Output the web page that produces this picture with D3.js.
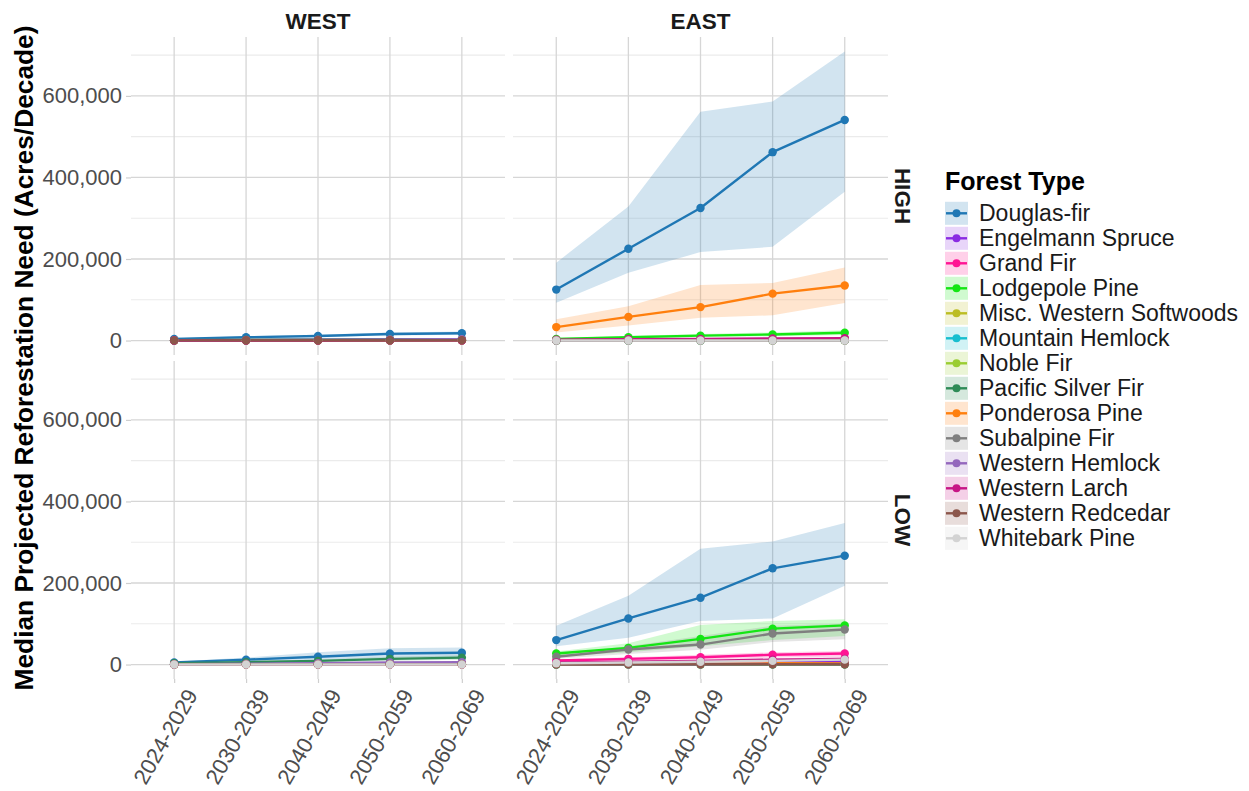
<!DOCTYPE html>
<html>
<head>
<meta charset="utf-8">
<script src="https://cdn.jsdelivr.net/npm/d3@7"></script>
<style>
  html, body { margin: 0; padding: 0; background: #ffffff; }
  svg { display: block; font-family: "Liberation Sans", Arial, Helvetica, sans-serif; }
</style>
</head>
<body>
<svg id="chart" width="1249" height="791"></svg>
<script>
// ---------------- DATA ----------------
const decades = ["2024-2029", "2030-2039", "2040-2049", "2050-2059", "2060-2069"];
const forestTypes = ["Douglas-fir", "Engelmann Spruce", "Grand Fir", "Lodgepole Pine",
  "Misc. Western Softwoods", "Mountain Hemlock", "Noble Fir", "Pacific Silver Fir",
  "Ponderosa Pine", "Subalpine Fir", "Western Hemlock", "Western Larch",
  "Western Redcedar", "Whitebark Pine"];
const typeColors = ["#1f77b4", "#8a2be2", "#ff1493", "#14e614", "#bcbd22", "#17becf",
  "#9acd32", "#2e8b57", "#ff7f0e", "#7f7f7f", "#9467bd", "#c71585", "#8c564b", "#d3d3d3"];
const regions = ["WEST", "EAST"];
const scenarios = ["HIGH", "LOW"];
const yTickValues = [0, 200000, 400000, 600000];
const yMinorValues = [100000, 300000, 500000, 700000];

// WEST / HIGH
const westHighMedian = [
  [4000, 8000, 11000, 16000, 18000], [300, 400, 500, 600, 700], [600, 900, 1100, 1400, 1500],
  [300, 400, 500, 600, 700], [200, 300, 300, 400, 400], [500, 800, 1000, 1300, 1500],
  [300, 500, 600, 800, 900], [1000, 1800, 2400, 3000, 3300], [300, 400, 500, 600, 700],
  [200, 300, 400, 500, 500], [900, 1600, 2200, 2800, 3100], [100, 200, 200, 300, 300],
  [500, 700, 800, 900, 1000], null];
const westHighLower = [
  [3000, 6000, 8500, 12500, 14500], [200, 300, 300, 400, 500], [400, 600, 800, 1000, 1100],
  [200, 300, 300, 400, 500], [100, 200, 200, 300, 300], [300, 500, 700, 900, 1000],
  [200, 300, 400, 500, 600], [700, 1300, 1700, 2100, 2300], [200, 300, 300, 400, 500],
  [100, 200, 300, 300, 300], [600, 1100, 1500, 2000, 2200], [100, 100, 100, 200, 200],
  [300, 500, 600, 600, 700], null];
const westHighUpper = [
  [5500, 10500, 14500, 20000, 22000], [400, 500, 700, 800, 900], [800, 1200, 1500, 1800, 2000],
  [400, 500, 700, 800, 900], [300, 400, 400, 500, 500], [700, 1100, 1300, 1700, 2000],
  [400, 700, 800, 1100, 1200], [1300, 2400, 3100, 3900, 4300], [400, 500, 700, 800, 900],
  [300, 400, 500, 700, 700], [1200, 2100, 2900, 3600, 4000], [200, 300, 300, 400, 400],
  [700, 900, 1000, 1200, 1300], null];

// WEST / LOW
const westLowMedian = [
  [5000, 12000, 19000, 27000, 29000], [300, 400, 500, 600, 700], [700, 1000, 1300, 1600, 1800],
  [300, 400, 500, 600, 700], [200, 300, 300, 400, 400], [600, 1000, 1300, 1700, 1900],
  [400, 600, 800, 1000, 1100], [3000, 6000, 9000, 14000, 17000], [300, 400, 500, 600, 700],
  [300, 400, 500, 600, 700], [1000, 2000, 3000, 5000, 6000], [100, 200, 200, 300, 300],
  [600, 800, 900, 1000, 1100], [100, 100, 100, 100, 100]];
const westLowLower = [
  [3500, 8000, 12000, 17000, 19000], [200, 300, 300, 400, 500], [500, 700, 900, 1100, 1200],
  [200, 300, 300, 400, 500], [100, 200, 200, 300, 300], [400, 700, 900, 1200, 1300],
  [300, 400, 500, 700, 800], [2000, 4000, 6000, 9500, 11500], [200, 300, 300, 400, 500],
  [200, 300, 300, 400, 500], [700, 1400, 2000, 3400, 4000], [100, 100, 100, 200, 200],
  [400, 500, 600, 700, 800], [0, 0, 0, 0, 0]];
const westLowUpper = [
  [7000, 17000, 30000, 40000, 42000], [400, 500, 700, 800, 900], [1000, 1300, 1700, 2100, 2400],
  [400, 500, 700, 800, 900], [300, 400, 400, 500, 500], [800, 1300, 1700, 2200, 2500],
  [500, 800, 1100, 1300, 1400], [4000, 8000, 12000, 19000, 23000], [400, 500, 700, 800, 900],
  [400, 500, 700, 800, 900], [1300, 2600, 4000, 6600, 8000], [200, 300, 300, 400, 400],
  [800, 1100, 1200, 1300, 1400], [200, 200, 200, 200, 200]];

// EAST / HIGH
const eastHighMedian = [
  [125000, 225000, 325000, 462000, 541000], [1000, 1500, 2000, 2500, 3000], [1500, 2000, 3000, 3500, 4000],
  [4000, 8000, 12000, 15000, 19000], [300, 400, 500, 600, 700], [200, 300, 300, 400, 400],
  [100, 200, 200, 300, 300], [200, 300, 300, 400, 400], [33000, 58000, 82000, 115000, 135000],
  [1000, 1500, 2000, 2500, 3000], [300, 400, 500, 600, 700], [2000, 3000, 4000, 5000, 6000],
  [300, 400, 500, 500, 600], [100, 100, 100, 100, 100]];
const eastHighLower = [
  [93000, 166000, 217000, 230000, 365000], [700, 1000, 1400, 1700, 2000], [1000, 1400, 2000, 2400, 2700],
  [2500, 5500, 8500, 10500, 13500], [200, 300, 300, 400, 500], [100, 200, 200, 300, 300],
  [100, 100, 100, 200, 200], [100, 200, 200, 300, 300], [20000, 37000, 56000, 62000, 92000],
  [700, 1000, 1400, 1700, 2000], [200, 300, 300, 400, 500], [1400, 2000, 2800, 3500, 4200],
  [200, 300, 300, 300, 400], [0, 0, 0, 0, 0]];
const eastHighUpper = [
  [191000, 329000, 561000, 586000, 709000], [1300, 2000, 2600, 3300, 4000], [2000, 2600, 4000, 4600, 5300],
  [6000, 11000, 16000, 20000, 25000], [400, 500, 700, 800, 900], [300, 400, 400, 500, 500],
  [200, 300, 300, 400, 400], [300, 400, 400, 500, 500], [52000, 84000, 136000, 141000, 179000],
  [1300, 2000, 2600, 3300, 4000], [400, 500, 700, 800, 900], [2600, 4000, 5200, 6500, 7800],
  [400, 500, 700, 700, 800], [200, 200, 200, 200, 200]];

// EAST / LOW
const eastLowMedian = [
  [60000, 113000, 164000, 236000, 267000], [3000, 4000, 5000, 6500, 7500], [10000, 14000, 18000, 24000, 27000],
  [27000, 41000, 63000, 88000, 96000], [500, 700, 900, 1100, 1200], [300, 400, 500, 600, 700],
  [200, 300, 300, 400, 400], [300, 400, 500, 600, 700], [1500, 2000, 2500, 3000, 3500],
  [19000, 37000, 49000, 76000, 86000], [500, 700, 900, 1100, 1200], [5000, 7000, 9000, 12000, 14000],
  [500, 600, 700, 800, 900], [3000, 5000, 7000, 9000, 12000]];
const eastLowLower = [
  [45000, 66000, 107000, 113000, 193000], [2000, 2800, 3500, 4500, 5200], [7000, 10000, 12000, 17000, 19000],
  [20000, 30000, 45000, 60000, 70000], [300, 500, 600, 800, 800], [200, 300, 300, 400, 500],
  [100, 200, 200, 300, 300], [200, 300, 300, 400, 500], [1000, 1400, 1700, 2100, 2400],
  [14000, 26000, 36000, 55000, 62000], [300, 500, 600, 800, 800], [3500, 5000, 6300, 8400, 9800],
  [300, 400, 500, 600, 600], [2000, 3500, 5000, 6300, 8400]];
const eastLowUpper = [
  [95000, 169000, 284000, 302000, 347000], [4000, 5200, 6500, 8500, 9800], [13000, 18000, 24000, 30000, 33000],
  [32000, 52000, 97000, 107000, 111000], [700, 900, 1200, 1400, 1600], [400, 500, 700, 800, 900],
  [300, 400, 400, 500, 500], [400, 500, 700, 800, 900], [2000, 2600, 3300, 3900, 4600],
  [25000, 45000, 70000, 95000, 100000], [700, 900, 1200, 1400, 1600], [6500, 9100, 11700, 15600, 18200],
  [700, 800, 900, 1000, 1200], [4000, 6500, 9100, 11700, 15600]];

// ---------------- LAYOUT ----------------
const panelsData = {
  "WEST|HIGH": [westHighMedian, westHighLower, westHighUpper],
  "WEST|LOW":  [westLowMedian,  westLowLower,  westLowUpper],
  "EAST|HIGH": [eastHighMedian, eastHighLower, eastHighUpper],
  "EAST|LOW":  [eastLowMedian,  eastLowLower,  eastLowUpper]
};
const panelX = { WEST: [131, 505], EAST: [513, 888] };
const panelY = { HIGH: [37, 355], LOW: [361, 679] };

const allUpper = [westHighUpper, westLowUpper, eastHighUpper, eastLowUpper]
  .flatMap(a => a.filter(r => r).flat());
const yMax = d3.max(allUpper), yMin = 0;
const yPad = (yMax - yMin) * 0.05;

const svg = d3.select("#chart");
svg.append("rect").attr("width", 1249).attr("height", 791).attr("fill", "#ffffff");

const fade = (c, a) => { const col = d3.color(c); col.opacity = a; return col.formatRgb(); };
const FONT = "'Liberation Sans', Arial, Helvetica, sans-serif";

regions.forEach(region => {
  scenarios.forEach(scen => {
    const [x0, x1] = panelX[region];
    const [y0, y1] = panelY[scen];
    const x = d3.scalePoint().domain(decades).range([x0, x1]).padding(0.6);
    const y = d3.scaleLinear().domain([yMin - yPad, yMax + yPad]).range([y1, y0]);
    const g = svg.append("g");

    // grid
    g.selectAll(".minor").data(yMinorValues).join("line")
      .attr("x1", x0).attr("x2", x1).attr("y1", d => y(d)).attr("y2", d => y(d))
      .attr("stroke", "#ebebeb").attr("stroke-width", 1.1);
    g.selectAll(".major").data(yTickValues).join("line")
      .attr("x1", x0).attr("x2", x1).attr("y1", d => y(d)).attr("y2", d => y(d))
      .attr("stroke", "#d6d6d6").attr("stroke-width", 1.3);
    g.selectAll(".vmajor").data(decades).join("line")
      .attr("x1", d => x(d)).attr("x2", d => x(d)).attr("y1", y0).attr("y2", y1)
      .attr("stroke", "#d6d6d6").attr("stroke-width", 1.3);

    const [med, lo, hi] = panelsData[region + "|" + scen];
    const area = d3.area().x((d, i) => x(decades[i])).y0((d, i) => y(d[0])).y1((d, i) => y(d[1]));
    const line = d3.line().x((d, i) => x(decades[i])).y(d => y(d));

    forestTypes.forEach((ft, k) => {
      if (!med[k]) return;
      const pts = lo[k].map((v, i) => [v, hi[k][i]]);
      g.append("path").attr("d", area(pts)).attr("fill", fade(typeColors[k], 0.2)).attr("stroke", "none");
    });
    forestTypes.forEach((ft, k) => {
      if (!med[k]) return;
      g.append("path").attr("d", line(med[k])).attr("fill", "none")
        .attr("stroke", typeColors[k]).attr("stroke-width", 2.4).attr("stroke-linejoin", "round");
    });
    forestTypes.forEach((ft, k) => {
      if (!med[k]) return;
      g.selectAll(null).data(med[k]).join("circle")
        .attr("cx", (d, i) => x(decades[i])).attr("cy", d => y(d)).attr("r", 4.2)
        .attr("fill", typeColors[k]);
    });

    // y axis on left column
    if (region === "WEST") {
      const ya = svg.append("g").attr("transform", `translate(${x0},0)`)
        .call(d3.axisLeft(y).tickValues(yTickValues).tickFormat(d3.format(",")).tickSize(5).tickPadding(4));
      ya.select(".domain").remove();
      ya.selectAll(".tick line").attr("stroke", "#cfcfcf").attr("stroke-width", 1.2);
      ya.selectAll(".tick text").attr("fill", "#4d4d4d").style("font-size", "22px")
        .style("font-family", FONT);
    }
    // x axis on bottom row
    if (scen === "LOW") {
      const xa = svg.append("g").attr("transform", `translate(0,${y1})`)
        .call(d3.axisBottom(x).tickSize(4).tickPadding(4));
      xa.select(".domain").remove();
      xa.selectAll(".tick line").attr("stroke", "#cfcfcf").attr("stroke-width", 1.2);
      xa.selectAll(".tick text").attr("fill", "#4d4d4d").style("font-size", "22px")
        .style("font-family", FONT)
        .attr("text-anchor", "end").attr("dy", "0.72em").attr("y", 0)
        .attr("transform", "translate(10,8) rotate(-60)");
    }
    // strips
    if (scen === "HIGH") {
      svg.append("text").attr("x", (x0 + x1) / 2).attr("y", 28.5).attr("text-anchor", "middle")
        .attr("font-weight", "bold").attr("font-size", 22.5).attr("fill", "#1a1a1a").text(region);
    }
    if (region === "EAST") {
      svg.append("text").attr("transform", `translate(895,${(y0 + y1) / 2}) rotate(90)`)
        .attr("text-anchor", "middle").attr("font-weight", "bold").attr("font-size", 22.5)
        .attr("fill", "#1a1a1a").text(scen);
    }
  });
});

// y axis title
svg.append("text").attr("transform", `translate(33,${(37 + 679) / 2}) rotate(-90)`)
  .attr("text-anchor", "middle").attr("font-weight", "bold").attr("font-size", 26.3)
  .attr("fill", "#000").text("Median Projected Reforestation Need (Acres/Decade)");

// legend
const lg = svg.append("g");
lg.append("text").attr("x", 945).attr("y", 190).attr("font-weight", "bold").attr("font-size", 25)
  .attr("fill", "#000").text("Forest Type");
forestTypes.forEach((ft, k) => {
  const cy = 213.3 + k * 25;
  lg.append("rect").attr("x", 945).attr("y", cy - 11.5).attr("width", 23).attr("height", 23)
    .attr("fill", fade(typeColors[k], 0.2));
  lg.append("line").attr("x1", 946).attr("x2", 967).attr("y1", cy).attr("y2", cy)
    .attr("stroke", typeColors[k]).attr("stroke-width", 2.4);
  lg.append("circle").attr("cx", 956.5).attr("cy", cy).attr("r", 4).attr("fill", typeColors[k]);
  lg.append("text").attr("x", 979).attr("y", cy + 8).attr("font-size", 23).attr("fill", "#1a1a1a").text(ft);
});
</script>
</body>
</html>
